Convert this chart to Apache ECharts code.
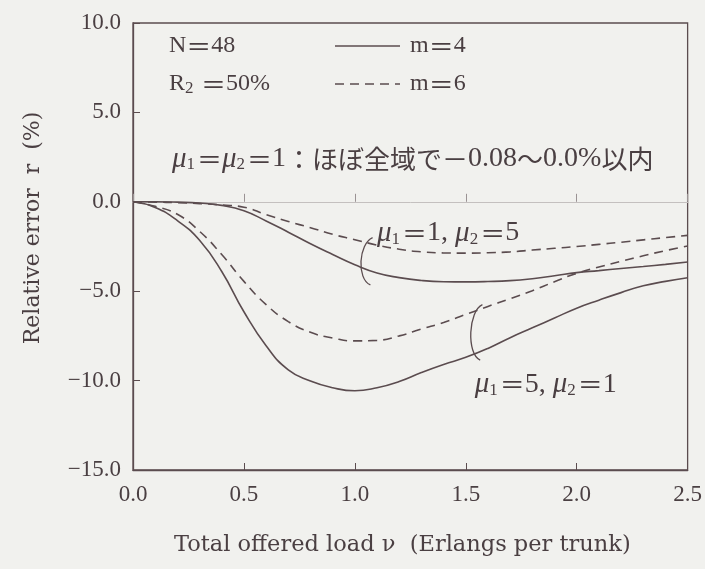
<!DOCTYPE html>
<html lang="ja">
<head>
    <meta charset="utf-8"/>
    <title>Relative error r</title>
    <script src="https://cdn.jsdelivr.net/npm/echarts@6/dist/echarts.min.js"></script>
    <style>
        html, body { margin: 0; padding: 0; background: #f1f1ee; }
        #main { width: 705px; height: 569px; }
    </style>
</head>
<body>
<div id="main"></div>
<script>
    // total offered load (Erlangs per trunk)
    var loads = [0, 0.1, 0.2, 0.3, 0.4, 0.5, 0.6, 0.7, 0.8, 0.9, 1.0, 1.1, 1.2,
        1.3, 1.4, 1.5, 1.6, 1.7, 1.8, 1.9, 2.0, 2.1, 2.2, 2.3, 2.4, 2.5];
    // m=4 (solid)
    var m4Mu15 = [0, 0, -0.02, -0.07, -0.2, -0.5, -1.07, -1.7, -2.35, -2.95, -3.52, -3.98, -4.24,
        -4.4, -4.47, -4.48, -4.46, -4.41, -4.3, -4.14, -3.96, -3.85, -3.73, -3.62, -3.5, -3.37];
    var m4Mu51 = [0, -0.32, -1.05, -2.15, -3.9, -6.15, -8.05, -9.4, -10.02, -10.4, -10.57, -10.4, -10.05,
        -9.55, -9.1, -8.7, -8.2, -7.6, -7.05, -6.5, -5.95, -5.5, -5.08, -4.7, -4.45, -4.25];
    // m=6 (dashed)
    var m6Mu15 = [0, -0.02, -0.05, -0.1, -0.18, -0.3, -0.72, -1.1, -1.45, -1.82, -2.12, -2.42, -2.65,
        -2.8, -2.86, -2.87, -2.85, -2.8, -2.7, -2.6, -2.5, -2.38, -2.26, -2.13, -2.0, -1.88];
    var m6Mu51 = [0, -0.25, -0.7, -1.65, -2.95, -4.45, -5.75, -6.7, -7.3, -7.62, -7.78, -7.75, -7.5,
        -7.12, -6.75, -6.3, -5.85, -5.42, -4.97, -4.47, -4.0, -3.65, -3.33, -3.02, -2.73, -2.47];

    var ink = '#5b4c4f';
    var txt = '#4a3f42';
    var serif = '"Liberation Serif", "Noto Sans CJK JP", serif';
    var wide = '"DejaVu Serif", "Liberation Serif", serif';
    var cjk = '"Noto Sans CJK JP", sans-serif';

    function pairs(ys) {
        return loads.map(function (x, i) { return [x, ys[i]]; });
    }
    function fmt(v) {
        return v < 0 ? '\u2212' + Math.abs(v).toFixed(1) : v.toFixed(1);
    }
    function curve(name, ys, dashed) {
        return {
            name: name,
            type: 'line',
            data: pairs(ys),
            smooth: true,
            showSymbol: false,
            xAxisIndex: 0,
            lineStyle: { color: ink, width: 1.6, type: dashed ? [9, 6] : 'solid' },
            itemStyle: { color: ink }
        };
    }

    var chart = echarts.init(document.getElementById('main'));
    var option = {
        backgroundColor: '#f1f1ee',
        animation: false,
        grid: { left: 133, right: 16, top: 23, bottom: 99, show: true, borderColor: ink, borderWidth: 1.3 },
        xAxis: [{
            type: 'value', min: 0, max: 2.5, interval: 0.5, position: 'bottom',
            axisLine: { onZero: false, lineStyle: { color: ink, width: 1.3 } },
            axisTick: { inside: true, length: 7, lineStyle: { color: ink } },
            axisLabel: { fontFamily: serif, fontSize: 23, color: txt, margin: 13, formatter: fmt },
            splitLine: { show: false },
            name: 'Total offered load \u03bd  (Erlangs per trunk)',
            nameLocation: 'middle', nameGap: 64,
            nameTextStyle: { fontFamily: wide, fontSize: 22.5, color: txt, padding: [0, 16, 0, 0] }
        }, {
            type: 'value', min: 0, max: 2.5, interval: 0.5, position: 'bottom',
            axisLine: { onZero: true, onZeroAxisIndex: 0, lineStyle: { color: '#c4c0bf', width: 1 } },
            axisTick: { inside: true, length: 8, lineStyle: { color: '#9a9293' } },
            axisLabel: { show: false },
            splitLine: { show: false }
        }],
        yAxis: {
            type: 'value', min: -15, max: 10, interval: 5,
            axisLine: { lineStyle: { color: ink, width: 1.3 } },
            axisTick: { inside: true, length: 7, lineStyle: { color: ink } },
            axisLabel: { fontFamily: serif, fontSize: 23, color: txt, margin: 12, formatter: fmt },
            splitLine: { show: false }
        },
        series: [
            curve('m=4 \u03bc1=1,\u03bc2=5', m4Mu15, false),
            curve('m=4 \u03bc1=5,\u03bc2=1', m4Mu51, false),
            curve('m=6 \u03bc1=1,\u03bc2=5', m6Mu15, true),
            curve('m=6 \u03bc1=5,\u03bc2=1', m6Mu51, true)
        ]
    };
    chart.setOption(option);

    // annotations
    var rich = {
        t: { fontFamily: serif, fontSize: 24, color: txt },
        n: { fontFamily: serif, fontSize: 28, color: txt },
        mu: { fontFamily: serif, fontSize: 29, fontStyle: 'italic', color: txt },
        s: { fontFamily: serif, fontSize: 17, color: txt, verticalAlign: 'bottom', padding: [9, 2, 0, 0] },
        e: { fontFamily: cjk, fontSize: 25, color: txt },
        j: { fontFamily: cjk, fontSize: 26, color: txt }
    };
    function label(x, y, text) {
        return {
            type: 'text', x: x, y: y,
            style: { text: text, rich: rich, verticalAlign: 'middle', fill: txt }
        };
    }
    function bracket(top, bottom) {
        var a = chart.convertToPixel({ xAxisIndex: 0, yAxisIndex: 0 }, top);
        var b = chart.convertToPixel({ xAxisIndex: 0, yAxisIndex: 0 }, bottom);
        return {
            type: 'bezierCurve',
            shape: { x1: a[0], y1: a[1], x2: b[0], y2: b[1],
                cpx1: a[0] - 14, cpy1: a[1] + 6, cpx2: b[0] - 14, cpy2: b[1] - 6 },
            style: { stroke: ink, lineWidth: 1.3, fill: null }
        };
    }
    var p1 = chart.convertToPixel({ xAxisIndex: 0, yAxisIndex: 0 }, [1.1, -1.75]);
    var p2 = chart.convertToPixel({ xAxisIndex: 0, yAxisIndex: 0 }, [1.54, -10.2]);

    chart.setOption({
        graphic: [
            label(169, 46, '{t|N}{e|\uff1d}{t|48}'),
            label(169, 84, '{t|R}{s|2}{e| \uff1d}{t|50%}'),
            { type: 'line', shape: { x1: 335, y1: 46, x2: 400, y2: 46 }, style: { stroke: ink, lineWidth: 1.6 } },
            { type: 'line', shape: { x1: 335, y1: 84, x2: 400, y2: 84 }, style: { stroke: ink, lineWidth: 1.6, lineDash: [9, 6] } },
            label(410, 46, '{t|m}{e|\uff1d}{t|4}'),
            label(410, 84, '{t|m}{e|\uff1d}{t|6}'),
            label(172, 159, '{mu|\u03bc}{s|1}{e|\uff1d}{mu|\u03bc}{s|2}{e|\uff1d}{n|1}{j|\uff1aほぼ全域で\uff0d}{n|0.08}{j|\uff5e}{n|0.0%}{j|以内}'),
            label(p1[0], p1[1], '{mu|\u03bc}{s|1}{e|\uff1d}{n|1, }{mu|\u03bc}{s|2}{e|\uff1d}{n|5}'),
            label(p2[0], p2[1], '{mu|\u03bc}{s|1}{e|\uff1d}{n|5, }{mu|\u03bc}{s|2}{e|\uff1d}{n|1}'),
            bracket([1.08, -2.0], [1.07, -4.65]),
            bracket([1.575, -5.75], [1.565, -8.85]),
            {
                type: 'text', x: 33, y: 228, rotation: Math.PI / 2,
                style: { text: 'Relative error  r  (%)', fontFamily: wide, fontSize: 22, fill: txt,
                    align: 'center', verticalAlign: 'middle' }
            }
        ]
    });
</script>
</body>
</html>
